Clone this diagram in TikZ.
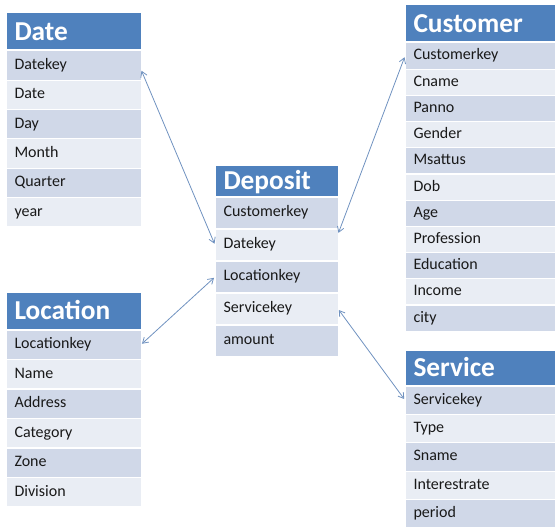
\documentclass[tikz,border=0pt]{standalone}
\usepackage{fontspec}
\setmainfont{Carlito}
\usetikzlibrary{arrows.meta}

\definecolor{headblue}{RGB}{79,129,189}
\definecolor{row1}{RGB}{208,216,232}
\definecolor{row0}{RGB}{233,237,244}
\definecolor{linkblue}{RGB}{112,146,192}

\tikzset{every picture/.style={line width=0.75pt}}
\tikzset{
  tblhead/.style={anchor=north west, fill=headblue, text=white, inner xsep=6pt, inner ysep=0pt, align=left, text height=15pt, text depth=2pt, font=\fontsize{20.5}{22}\selectfont\bfseries},
  tblrow/.style={anchor=north west, inner xsep=6pt, inner ysep=0pt, align=left, text=black!90, text height=8.5pt, text depth=2.5pt, font=\fontsize{12}{14}\selectfont},
  link/.style={draw=linkblue, line width=0.6pt, {Straight Barb[length=4pt,width=5pt]}-{Straight Barb[length=4pt,width=5pt]}, shorten <=1pt, shorten >=1pt}
}

% table: name, x, y, width, header height, row height, title, fields
\newcommand{\erdtable}[8]{%
  \pgfmathsetmacro{\tw}{#4*0.75-12}
  \node[tblhead, text width=\tw pt, minimum height=#5*0.75pt] (#1-h) at (#2,#3) {#7};
  \foreach \f [count=\i] in {#8} {
    \pgfmathsetmacro{\ry}{#3+#5+2+(\i-1)*#6}
    \pgfmathtruncatemacro{\odd}{mod(\i,2)}
    \node[tblrow, fill=row\odd, text width=\tw pt, minimum height=(#6-1.2)*0.75pt] (#1-\i) at (#2,\ry) {\f};
  }%
}

\begin{document}
\begin{tikzpicture}[x=0.75pt,y=0.75pt,yscale=-1,xscale=1]
\useasboundingbox (0,0) rectangle (555,528);

% Tables
\erdtable{date}{6}{13}{134}{36}{29.3}{Date}{Datekey,Date,Day,Month,Quarter,year}
\erdtable{deposit}{215}{165}{122}{30}{32}{Deposit}{Customerkey,Datekey,Locationkey,Servicekey,amount}
\erdtable{customer}{405}{5}{150}{36}{26.2}{Customer}{Customerkey,Cname,Panno,Gender,Msattus,Dob,Age,Profession,Education,Income,city}
\erdtable{location}{6}{292}{134}{36}{29.5}{Location}{Locationkey,Name,Address,Category,Zone,Division}
\erdtable{service}{405}{350}{150}{34}{28.4}{Service}{Servicekey,Type,Sname,Interestrate,period}

% Links
\draw[link] ([yshift=3pt]date-1.east) -- (deposit-2.west);
\draw[link] (customer-1.west) -- ([yshift=4pt]deposit-1.south east);
\draw[link] (location-1.east) -- (deposit-3.west);
\draw[link] (service-1.west) -- (deposit-4.east);

\end{tikzpicture}
\end{document}
